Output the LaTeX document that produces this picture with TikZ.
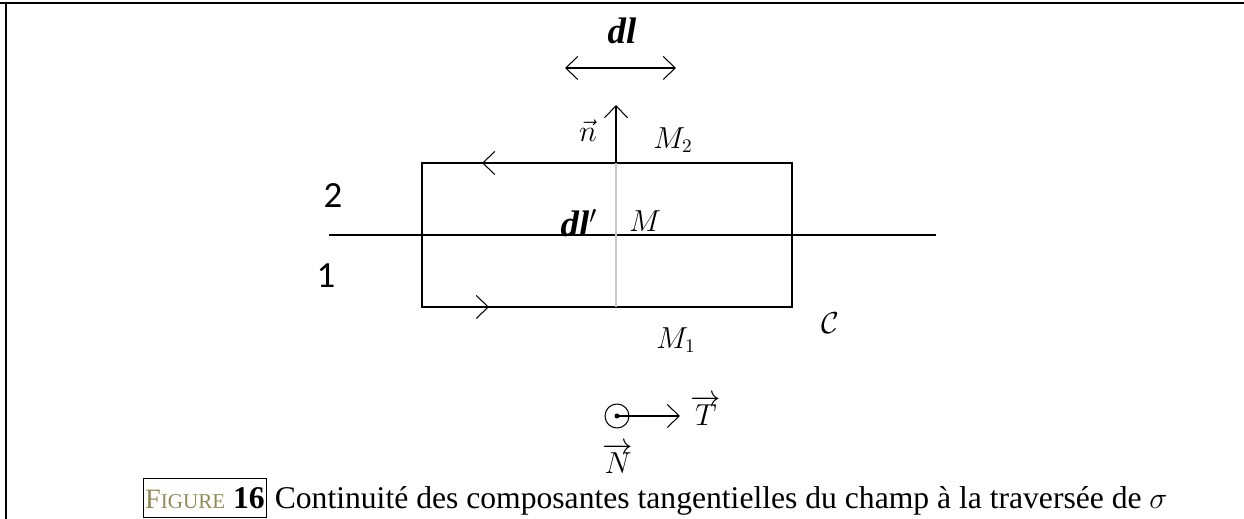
\documentclass[tikz,border=0pt]{standalone}
\usepackage{fontspec}
\setmainfont{Liberation Serif}
\newfontfamily\digitfont{Carlito}
\usetikzlibrary{arrows.meta,positioning}
\definecolor{FigOlive}{RGB}{148,138,84}
\definecolor{PaleGrey}{RGB}{200,200,200}
\tikzset{
  wire/.style={line width=0.6pt},
  barb/.style={-{Straight Barb[length=2.4mm,width=4.6mm]},line width=0.6pt},
  lbl/.style={font=\fontsize{16}{16}\selectfont,inner sep=0pt},
  boldlbl/.style={font=\fontsize{21}{21}\selectfont\bfseries\itshape,inner sep=0pt},
  side/.style={font=\digitfont\fontsize{21}{21}\selectfont,inner sep=0pt},
  capfont/.style={font=\fontsize{18}{20}\selectfont},
  frame/.style={line width=1.2pt}
}

\begin{document}
\begin{tikzpicture}[x=0.02cm,y=-0.02cm]
  \useasboundingbox (0,0) rectangle (1244,519);
  % cadre
  \draw[frame] (0,3) -- (1244,3);
  \draw[frame] (6,3) -- (6,519);

  % interface
  \coordinate (ifL) at (329,235);
  \coordinate (ifR) at (936,235);
  \draw[wire] (ifL) -- (ifR);

  % contour C
  \coordinate (cNW) at (422,163);
  \coordinate (cNE) at (792,163);
  \coordinate (cSW) at (422,307);
  \coordinate (cSE) at (792,307);
  \coordinate (tipTop) at (482,163);
  \coordinate (tipBot) at (489,307);
  \draw[wire] (cNW) rectangle (cSE);
  \draw[barb] (cNE) -- (tipTop);
  \draw[barb] (cSW) -- (tipBot);

  % normale
  \coordinate (mTop) at (616,163);
  \coordinate (mBot) at (616,307);
  \coordinate (nTip) at (616,105);
  \draw[PaleGrey,line width=0.9pt] (mTop) -- (mBot);
  \draw[barb] (mTop) -- (nTip);

  % dl
  \coordinate (dlL) at (565,68);
  \coordinate (dlR) at (676,68);
  \draw[barb,{Straight Barb[length=2.4mm,width=4.6mm]}-{Straight Barb[length=2.4mm,width=4.6mm]}] (dlL) -- (dlR);

  \node[boldlbl] (dl) at (622,31) {dl};
  \node[lbl] (n) at (588,131) {$\vec{n}$};
  \node[lbl] (M2) at (673,140) {$M_2$};
  \node[side] (two) at (333,196) {2};
  \node[side] (one) at (326,276) {1};
  \node[boldlbl] (dlp) at (579,223) {dl$'$};
  \node[lbl] (M) at (645,221) {$M$};
  \node[lbl] (C) at (830,323) {$\mathcal{C}$};
  \node[lbl] (M1) at (676,340) {$M_1$};

  % triedre
  \node[draw,circle,wire,minimum size=0.48cm,inner sep=0pt] (dot) at (617,416) {};
  \fill (dot.center) circle (2.5);
  \coordinate (Ttip) at (680,416);
  \draw[barb] (dot.center) -- (Ttip);
  \node[lbl] (T) at (706,410) {$\overrightarrow{T}$};
  \node[lbl] (N) at (618,458) {$\overrightarrow{N}$};

  % legende
  \node[draw,line width=1pt,inner xsep=1pt,inner ysep=5pt,capfont] (figbox) at (205,498)
    {{\color{FigOlive}\fontsize{16}{18}\selectfont F{\fontsize{12}{14}\selectfont IGURE}} \textbf{16}};
  \node[capfont,inner sep=2pt,base right=2pt of figbox] (caption)
    {Continuité des composantes tangentielles du champ à la traversée de $\sigma$};
\end{tikzpicture}
\end{document}
